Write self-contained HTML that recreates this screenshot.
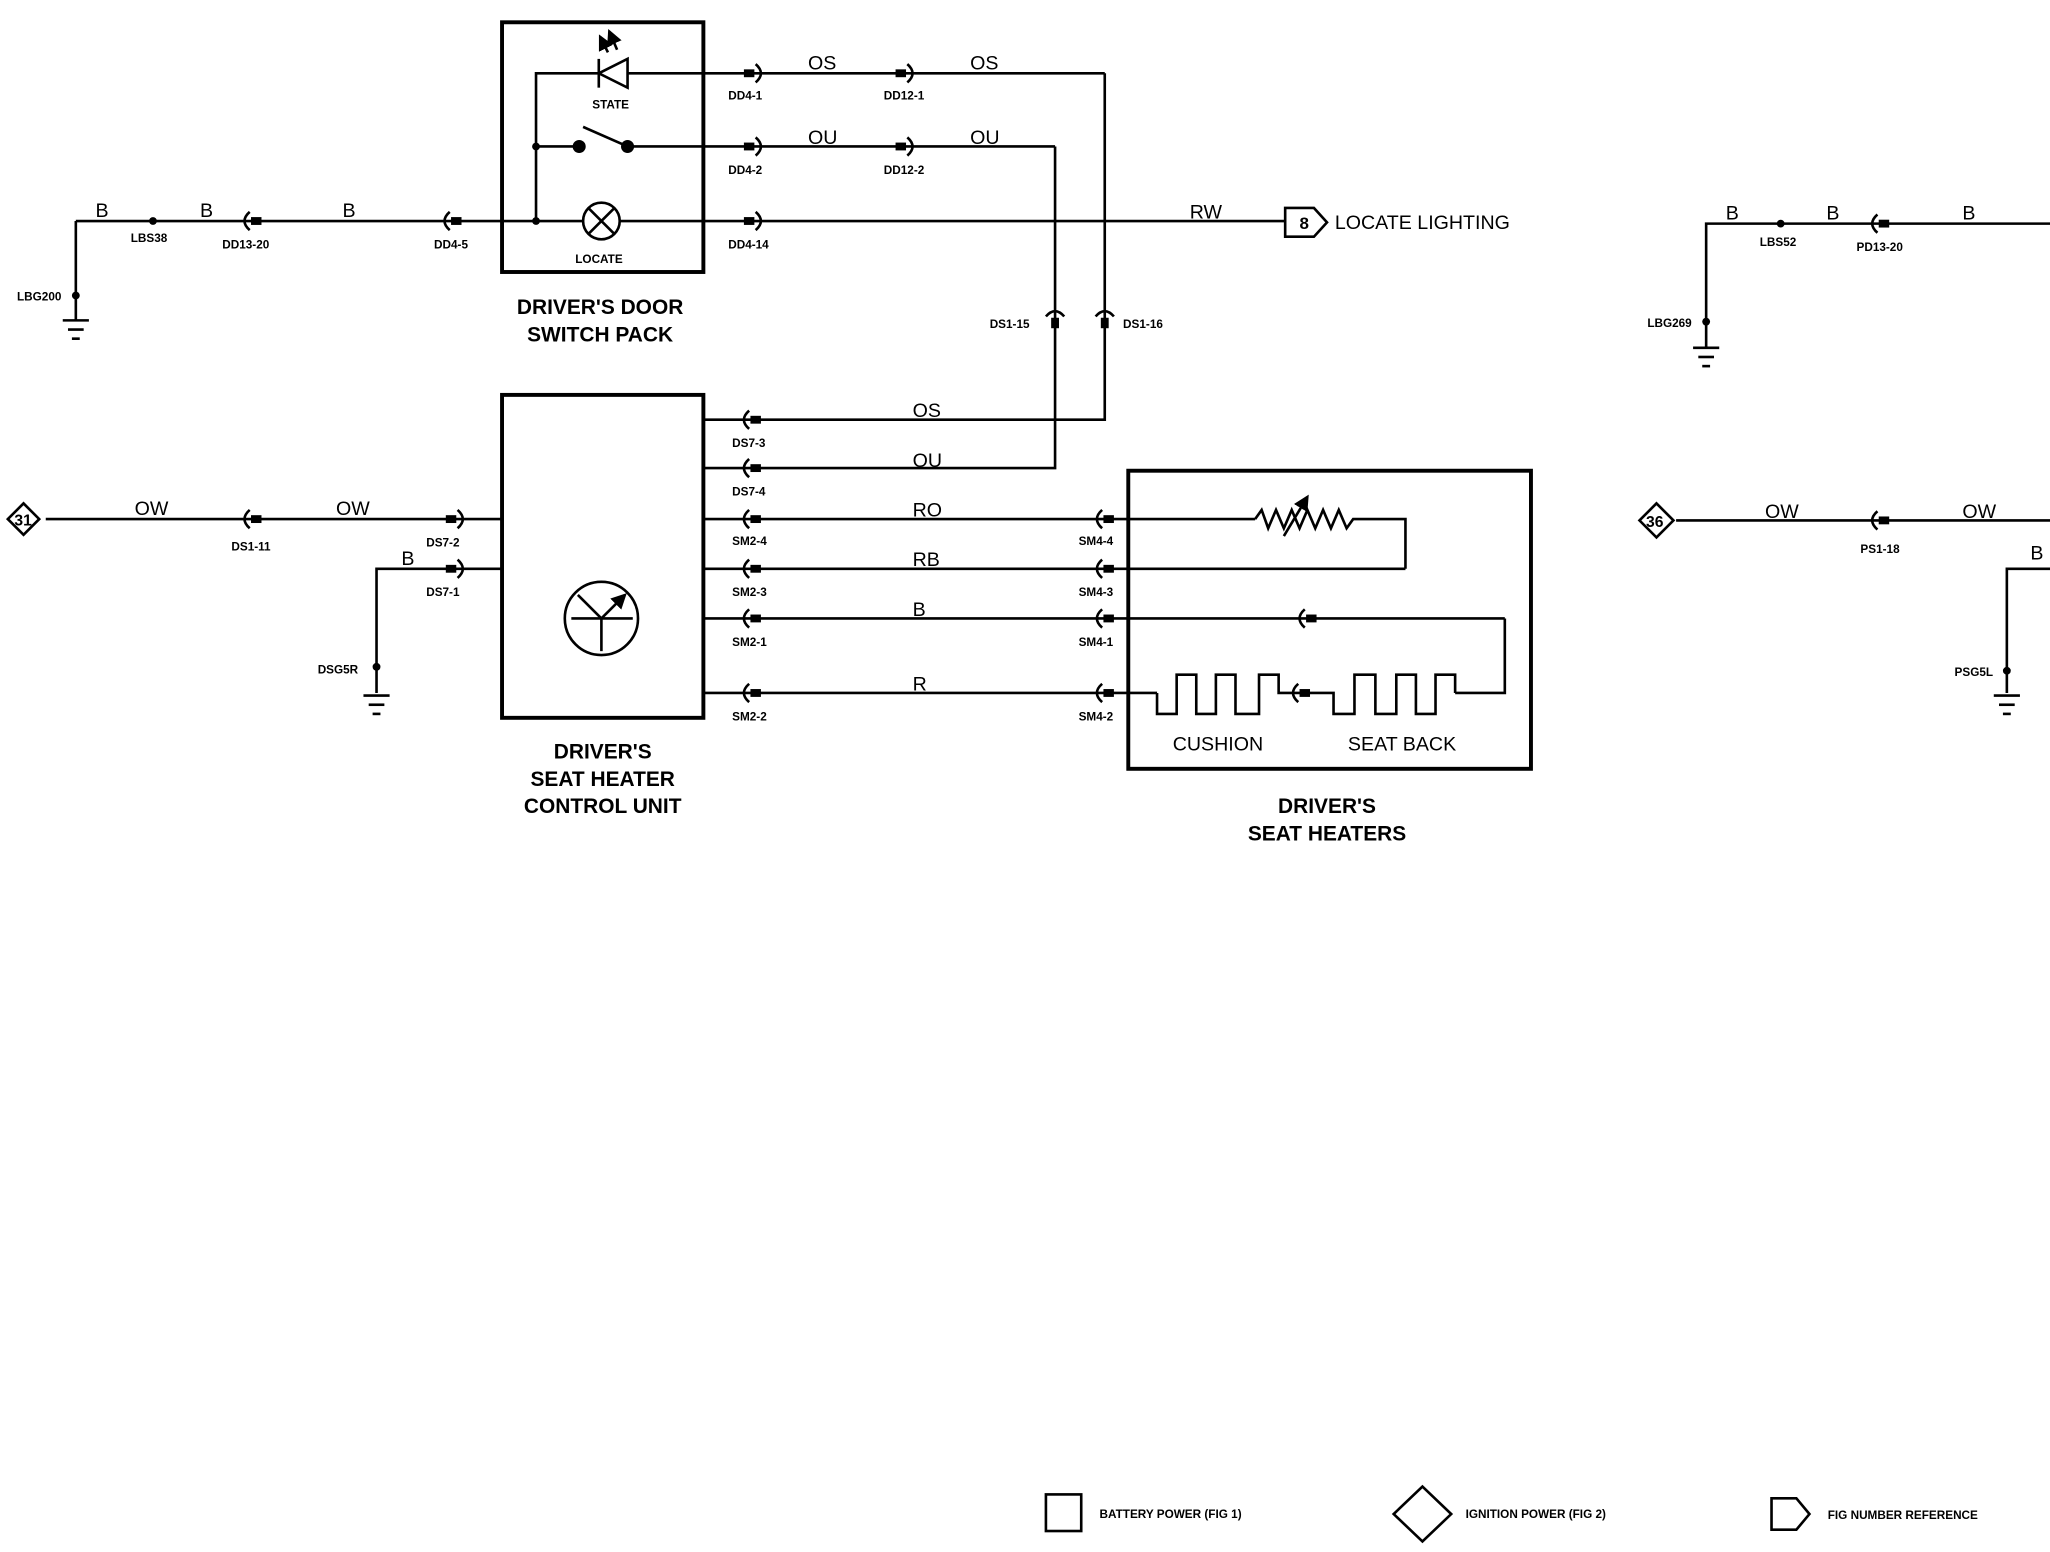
<!DOCTYPE html>
<html><head><style>
html,body{margin:0;padding:0;background:#fff;}
svg{display:block;}
text{font-family:"Liberation Sans",sans-serif;fill:#000;}
.s{font-size:9px;font-weight:bold;}
.w{font-size:15px;}
.t{font-size:16px;font-weight:bold;}
</style></head><body>
<svg width="2050" height="1552" viewBox="0 0 1568 1187" xmlns="http://www.w3.org/2000/svg">
<defs>
<g id="cL"><path d="M-2,-7 Q-10,0 -2,7" fill="none" stroke="#000" stroke-width="2"/><rect x="-1" y="-3" width="8" height="6" fill="#000"/></g>
<g id="cR"><path d="M2,-7 Q10,0 2,7" fill="none" stroke="#000" stroke-width="2"/><rect x="-7" y="-3" width="8" height="6" fill="#000"/></g>
<g id="cV"><path d="M-7,-2 Q0,-10 7,-2" fill="none" stroke="#000" stroke-width="2"/><rect x="-3" y="-1" width="6" height="8" fill="#000"/></g>
<g id="gnd"><line x1="-10" y1="0" x2="10" y2="0" stroke="#000" stroke-width="2"/><line x1="-6" y1="7" x2="6" y2="7" stroke="#000" stroke-width="2"/><line x1="-3" y1="14" x2="3" y2="14" stroke="#000" stroke-width="2"/></g>
<marker id="ah" markerWidth="6" markerHeight="6" refX="5" refY="3" orient="auto"><path d="M0,0 L6,3 L0,6 z" fill="#000"/></marker>
</defs>
<g fill="none" stroke="#000" stroke-width="2">
<rect x="384" y="17" width="154" height="191" stroke-width="3"/>
<polyline points="458,56 410,56 410,169"/>
<line x1="480" y1="56" x2="845" y2="56"/>
<polyline points="845,56 845,321 578,321"/>
<polygon points="458,56 480,45 480,67" />
<line x1="458" y1="45" x2="458" y2="67"/>
<line x1="465" y1="40" x2="459" y2="28" marker-end="url(#ah)"/><line x1="472" y1="38" x2="466" y2="24" marker-end="url(#ah)"/>
<line x1="410" y1="112" x2="443" y2="112"/>
<line x1="446" y1="97" x2="480" y2="112"/>
<line x1="480" y1="112" x2="807" y2="112"/>
<polyline points="807,112 807,358 578,358"/>
<line x1="58" y1="169" x2="985" y2="169"/>
<line x1="58" y1="169" x2="58" y2="245"/>
<circle cx="460" cy="169" r="14" fill="#fff"/>
<line x1="450" y1="159" x2="470" y2="179"/><line x1="470" y1="159" x2="450" y2="179"/>
<polygon points="983,159 1005,159 1015,170 1005,181 983,181" fill="#fff"/>
<rect x="384" y="302" width="154" height="247" stroke-width="3"/>
<circle cx="460" cy="473" r="28"/>
<line x1="437" y1="473" x2="484" y2="473"/><line x1="460" y1="473" x2="460" y2="498"/><line x1="460" y1="473" x2="442" y2="455"/><line x1="460" y1="473" x2="478" y2="455" marker-end="url(#ah)"/>
<line x1="538" y1="321" x2="580" y2="321"/><line x1="538" y1="358" x2="580" y2="358"/>
<line x1="538" y1="397" x2="960" y2="397"/>
<line x1="538" y1="435" x2="1075" y2="435"/>
<line x1="538" y1="473" x2="1151" y2="473"/>
<line x1="538" y1="530" x2="885" y2="530"/>
<rect x="863" y="360" width="308" height="228" stroke-width="3"/>
<polyline points="960,397 965,390 970,404 976,390 982,404 988,390 994,404 1000,390 1006,404 1012,390 1018,404 1024,390 1030,404 1035,397 1075,397 1075,435"/>
<line x1="982" y1="410" x2="1000" y2="380" marker-end="url(#ah)"/>
<polyline points="1151,473 1151,530 1113,530"/>
<polyline points="885,530 885,546 900,546 900,516 915,516 915,546 930,546 930,516 945,516 945,546 963,546 963,516 978,516 978,530 995,530"/>
<polyline points="995,530 1020,530 1020,546 1036,546 1036,516 1052,516 1052,546 1068,546 1068,516 1083,516 1083,546 1098,546 1098,516 1113,516 1113,530"/>
<line x1="35" y1="397" x2="384" y2="397"/>
<polygon points="6,397 18,385 30,397 18,409" fill="#fff"/>
<polyline points="384,435 288,435 288,530"/>
<polyline points="1568,171 1305,171 1305,265"/>
<line x1="1282" y1="398" x2="1568" y2="398"/>
<polygon points="1254,398 1267,385 1280,398 1267,411" fill="#fff"/>
<polyline points="1568,435 1535,435 1535,530"/>
<rect x="800" y="1143" width="27" height="28"/>
<polygon points="1088,1137 1110,1158 1088,1179 1066,1158"/>
<polygon points="1355,1146 1374,1146 1384,1158 1374,1170 1355,1170"/>
</g>
<g fill="#000">
<circle cx="410" cy="112" r="3"/><circle cx="410" cy="169" r="3"/>
<circle cx="443" cy="112" r="5"/><circle cx="480" cy="112" r="5"/>
<circle cx="117" cy="169" r="3"/><circle cx="58" cy="226" r="3"/>
<circle cx="288" cy="510" r="3"/><circle cx="1362" cy="171" r="3"/><circle cx="1305" cy="246" r="3"/><circle cx="1535" cy="513" r="3"/>
</g>
<use href="#gnd" x="58" y="245"/><use href="#gnd" x="288" y="532"/><use href="#gnd" x="1305" y="266"/><use href="#gnd" x="1535" y="532"/>
<use href="#cR" x="576" y="56"/><use href="#cR" x="692" y="56"/>
<use href="#cR" x="576" y="112"/><use href="#cR" x="692" y="112"/>
<use href="#cR" x="576" y="169"/>
<use href="#cL" x="193" y="169"/><use href="#cL" x="346" y="169"/>
<use href="#cV" x="807" y="244"/><use href="#cV" x="845" y="244"/>
<use href="#cL" x="193" y="397"/><use href="#cR" x="348" y="397"/><use href="#cR" x="348" y="435"/>
<use href="#cL" x="575" y="321"/><use href="#cL" x="575" y="358"/><use href="#cL" x="575" y="397"/><use href="#cL" x="575" y="435"/><use href="#cL" x="575" y="473"/><use href="#cL" x="575" y="530"/>
<use href="#cL" x="845" y="397"/><use href="#cL" x="845" y="435"/><use href="#cL" x="845" y="473"/><use href="#cL" x="845" y="530"/>
<use href="#cL" x="1000" y="473"/><use href="#cL" x="995" y="530"/>
<use href="#cL" x="1438" y="171"/><use href="#cL" x="1438" y="398"/>
<text class="s" x="453" y="83">STATE</text>
<text class="s" x="440" y="201">LOCATE</text>
<text class="w" x="618" y="53">OS</text><text class="w" x="742" y="53">OS</text>
<text class="w" x="618" y="110">OU</text><text class="w" x="742" y="110">OU</text>
<text class="s" x="557" y="76">DD4-1</text><text class="s" x="676" y="76">DD12-1</text>
<text class="s" x="557" y="133">DD4-2</text><text class="s" x="676" y="133">DD12-2</text>
<text class="s" x="557" y="190">DD4-14</text>
<text class="w" x="73" y="166">B</text><text class="w" x="153" y="166">B</text><text class="w" x="262" y="166">B</text>
<text class="s" x="100" y="185">LBS38</text><text class="s" x="170" y="190">DD13-20</text><text class="s" x="332" y="190">DD4-5</text>
<text class="s" x="13" y="230">LBG200</text>
<text class="w" x="910" y="167">RW</text>
<text x="994" y="175" style="font-size:13px;font-weight:bold">8</text>
<text class="w" x="1021" y="175">LOCATE LIGHTING</text>
<text class="t" x="459" y="240" text-anchor="middle">DRIVER'S DOOR</text>
<text class="t" x="459" y="261" text-anchor="middle">SWITCH PACK</text>
<text class="s" x="757" y="251">DS1-15</text><text class="s" x="859" y="251">DS1-16</text>
<text class="w" x="698" y="319">OS</text><text class="w" x="698" y="357">OU</text>
<text class="w" x="698" y="395">RO</text><text class="w" x="698" y="433">RB</text>
<text class="w" x="698" y="471">B</text><text class="w" x="698" y="528">R</text>
<text class="s" x="560" y="342">DS7-3</text><text class="s" x="560" y="379">DS7-4</text>
<text class="s" x="560" y="417">SM2-4</text><text class="s" x="560" y="456">SM2-3</text><text class="s" x="560" y="494">SM2-1</text><text class="s" x="560" y="551">SM2-2</text>
<text class="s" x="825" y="417">SM4-4</text><text class="s" x="825" y="456">SM4-3</text><text class="s" x="825" y="494">SM4-1</text><text class="s" x="825" y="551">SM4-2</text>
<text class="w" x="103" y="394">OW</text><text class="w" x="257" y="394">OW</text>
<text x="11" y="402" style="font-size:12px;font-weight:bold">31</text>
<text class="s" x="177" y="421">DS1-11</text><text class="s" x="326" y="418">DS7-2</text><text class="s" x="326" y="456">DS7-1</text>
<text class="w" x="307" y="432">B</text>
<text class="s" x="243" y="515">DSG5R</text>
<text class="t" x="461" y="580" text-anchor="middle">DRIVER'S</text>
<text class="t" x="461" y="601" text-anchor="middle">SEAT HEATER</text>
<text class="t" x="461" y="622" text-anchor="middle">CONTROL UNIT</text>
<text class="w" x="897" y="574">CUSHION</text><text class="w" x="1031" y="574">SEAT BACK</text>
<text class="t" x="1015" y="622" text-anchor="middle">DRIVER'S</text>
<text class="t" x="1015" y="643" text-anchor="middle">SEAT HEATERS</text>
<text class="w" x="1320" y="168">B</text><text class="w" x="1397" y="168">B</text><text class="w" x="1501" y="168">B</text>
<text class="s" x="1346" y="188">LBS52</text><text class="s" x="1420" y="192">PD13-20</text><text class="s" x="1260" y="250">LBG269</text>
<text class="w" x="1350" y="396">OW</text><text class="w" x="1501" y="396">OW</text>
<text x="1259" y="403" style="font-size:12px;font-weight:bold">36</text>
<text class="s" x="1423" y="423">PS1-18</text><text class="w" x="1553" y="428">B</text>
<text class="s" x="1495" y="517">PSG5L</text>
<text class="s" x="841" y="1161">BATTERY POWER (FIG 1)</text>
<text class="s" x="1121" y="1161">IGNITION POWER (FIG 2)</text>
<text class="s" x="1398" y="1162">FIG NUMBER REFERENCE</text>
</svg>
</body></html>
